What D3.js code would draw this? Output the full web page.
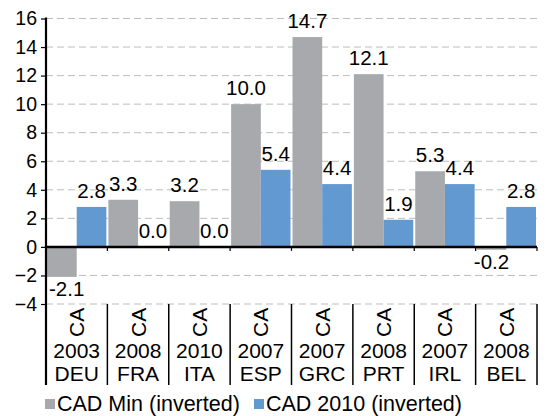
<!DOCTYPE html>
<html>
<head>
<meta charset="utf-8">
<script src="https://cdn.jsdelivr.net/npm/d3@7"></script>
<style>
  body { margin: 0; background: #fff; }
  text { font-family: "Liberation Sans", Arial, sans-serif; fill: #000; }
</style>
</head>
<body>
<div id="chart"></div>
<script>
// data
var countries = ["DEU", "FRA", "ITA", "ESP", "GRC", "PRT", "IRL", "BEL"];
var years = ["2003", "2008", "2010", "2007", "2007", "2008", "2007", "2008"];
var cadMin = [-2.1, 3.3, 3.2, 10.0, 14.7, 12.1, 5.3, -0.2];
var cad2010 = [2.8, 0.0, 0.0, 5.4, 4.4, 1.9, 4.4, 2.8];
var seriesNames = ["CAD Min (inverted)", "CAD 2010 (inverted)"];
var yTicks = [-4, -2, 0, 2, 4, 6, 8, 10, 12, 14, 16];

var W = 549, H = 416;
var plotLeft = 46, plotRight = 537, plotTop = 18.5, plotBottom = 304, labelBottom = 385;
var gray = "#a7a9ac", blue = "#6399d1";

var svg = d3.select("#chart").append("svg").attr("width", W).attr("height", H);

var y = d3.scaleLinear().domain([-4, 16]).range([plotBottom, plotTop]);
var x0 = d3.scaleBand().domain(countries).range([plotLeft, plotRight]);
var x1 = d3.scaleBand().domain([0, 1]).range([1, x0.bandwidth() - 1]);

// gridlines
svg.append("g").selectAll("line").data(yTicks.filter(function (d) { return d != 0; }))
  .enter().append("line")
  .attr("x1", plotLeft).attr("x2", plotRight)
  .attr("y1", function (d) { return y(d); }).attr("y2", function (d) { return y(d); })
  .style("stroke", "#bdbdbd").style("stroke-width", 1).style("stroke-dasharray", "7,4");

// bars
var rows = countries.map(function (c, i) { return { c: c, vals: [cadMin[i], cad2010[i]] }; });
var grp = svg.append("g").selectAll("g").data(rows).enter().append("g")
  .attr("transform", function (d) { return "translate(" + x0(d.c) + ",0)"; });

grp.selectAll("rect").data(function (d) { return d.vals; }).enter().append("rect")
  .attr("x", function (d, i) { return x1(i); })
  .attr("width", x1.bandwidth())
  .attr("y", function (d) { return y(Math.max(0, d)); })
  .attr("height", function (d) { return Math.abs(y(d) - y(0)); })
  .style("fill", function (d, i) { return i == 0 ? gray : blue; });

var valLabels = grp.selectAll("text").data(function (d) { return d.vals; }).enter().append("text")
  .attr("x", function (d, i) { return x1(i) + x1.bandwidth() / 2; })
  .attr("y", function (d) { return d < 0 ? y(d) + 19 : y(d) - 9; })
  .attr("text-anchor", "middle")
  .style("font-size", "20.5px")
  .text(function (d) { return d.toFixed(1); });

// keep labels off the y axis
valLabels.each(function () {
  var b = this.getBBox();
  var gx = +d3.select(this.parentNode).attr("transform").match(/translate\(([^,]+)/)[1];
  var over = plotLeft + 3 - (gx + b.x);
  if (over > 0) d3.select(this).attr("x", +d3.select(this).attr("x") + over);
});

// zero line
svg.append("line").attr("x1", plotLeft).attr("x2", plotRight).attr("y1", y(0)).attr("y2", y(0))
  .style("stroke", "#000").style("stroke-width", 2.5);

// small ticks below zero line
var bounds = countries.map(function (c) { return x0(c) + x0.bandwidth(); });
svg.append("g").selectAll("line").data(bounds).enter().append("line")
  .attr("x1", function (d) { return d; }).attr("x2", function (d) { return d; })
  .attr("y1", y(0)).attr("y2", y(0) + 4)
  .style("stroke", "#000").style("stroke-width", 1.2);

// category separators
svg.append("g").selectAll("line").data(bounds).enter().append("line")
  .attr("x1", function (d) { return d; }).attr("x2", function (d) { return d; })
  .attr("y1", plotBottom).attr("y2", labelBottom)
  .style("stroke", "#000").style("stroke-width", 1.5);

// y axis
var yAxis = svg.append("g").attr("transform", "translate(" + plotLeft + ",0)")
  .call(d3.axisLeft(y).tickValues(yTicks).tickSize(5).tickPadding(4));
yAxis.select(".domain").remove();
yAxis.selectAll(".tick line").style("stroke", "#000").style("stroke-width", 1.2);
yAxis.selectAll(".tick text").style("font-size", "19.5px").style("font-family", "Liberation Sans, Arial, sans-serif").attr("fill", "#000");
svg.append("line").attr("x1", plotLeft).attr("x2", plotLeft).attr("y1", plotTop - 1).attr("y2", labelBottom)
  .style("stroke", "#000").style("stroke-width", 2.2);

// category labels
var cat = svg.append("g").selectAll("g").data(countries).enter().append("g")
  .attr("transform", function (d) { return "translate(" + (x0(d) + x0.bandwidth() / 2) + ",0)"; });
cat.append("text")
  .attr("transform", "translate(7.5,337) rotate(-90)")
  .attr("text-anchor", "start")
  .style("font-size", "21px")
  .text("CA");
cat.append("text")
  .attr("y", 358).attr("text-anchor", "middle").style("font-size", "21px")
  .text(function (d, i) { return years[i]; });
cat.append("text")
  .attr("y", 381).attr("text-anchor", "middle").style("font-size", "21px")
  .text(function (d) { return d; });

// legend
var legX = [45, 254];
var leg = svg.append("g").selectAll("g").data(seriesNames).enter().append("g")
  .attr("transform", function (d, i) { return "translate(" + legX[i] + ",0)"; });
leg.append("rect").attr("x", 0).attr("y", 399).attr("width", 10).attr("height", 10)
  .style("fill", function (d, i) { return i == 0 ? gray : blue; });
leg.append("text").attr("x", 12).attr("y", 411).style("font-size", "21.5px")
  .text(function (d) { return d; });
</script>
</body>
</html>
